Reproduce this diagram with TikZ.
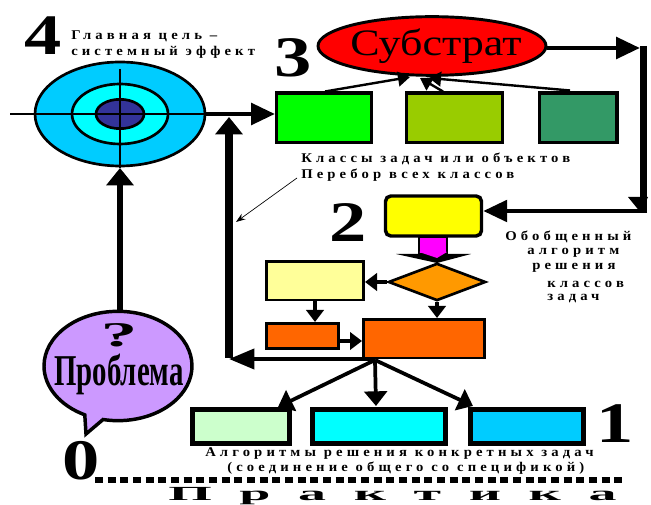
\documentclass[tikz,border=0pt]{standalone}
\usepackage{fontspec}
\setmainfont{Liberation Serif}
\newfontfamily\wide[LetterSpace=31,FakeStretch=1.1]{Liberation Serif}
\newfontfamily\numfont[FakeStretch=1.3]{Liberation Serif}
\usepackage{xcolor}
\usepackage{tikz}
\usetikzlibrary{shapes,shapes.geometric,shapes.callouts,arrows.meta,positioning,calc}
\definecolor{skyb}{HTML}{00CCFF}
\definecolor{aqua}{HTML}{00FFFF}
\definecolor{navyb}{HTML}{333399}
\definecolor{lime}{HTML}{00FF00}
\definecolor{oliveg}{HTML}{99CC00}
\definecolor{seag}{HTML}{339966}
\definecolor{puretop}{HTML}{FFFF00}
\definecolor{pink}{HTML}{FF00FF}
\definecolor{paley}{HTML}{FFFF99}
\definecolor{paleg}{HTML}{CCFFCC}
\definecolor{dkorange}{HTML}{FF6600}
\definecolor{ltorange}{HTML}{FF9900}
\definecolor{lilac}{HTML}{CC99FF}
\definecolor{purered}{HTML}{FF0000}
\tikzset{
  box/.style={draw,rectangle,line width=2.6pt,inner sep=0pt,anchor=north west},
  ring/.style={draw,ellipse,line width=2pt,inner sep=0pt},
  bignum/.style={inner sep=0pt,font=\numfont\bfseries\fontsize{43}{43}\selectfont},
  captext/.style={inner sep=0pt,anchor=west,font=\wide\bfseries\fontsize{10}{10}\selectfont},
  bigarrow/.style={line width=3.6pt,-{Triangle[length=18pt,width=16pt]}},
  midarrow/.style={line width=2.8pt,-{Triangle[length=11pt,width=17pt]}},
  smallarrow/.style={line width=2.4pt,-{Triangle[length=9pt,width=13pt]}},
  toparrow/.style={line width=1.8pt,-{Triangle[length=9pt,width=11pt]}},
}
\begin{document}
\begin{tikzpicture}[x=0.75pt,y=-0.75pt]
\useasboundingbox (0,0) rectangle (651,505);
% target
\node[ring,fill=skyb,minimum width=127.5pt,minimum height=78pt] (outer) at (120,114) {};
\node[ring,fill=aqua,minimum width=72pt,minimum height=45pt] (middle) at (120,114) {};
\node[ring,fill=navyb,minimum width=36pt,minimum height=22pt] (inner) at (120,114) {};
\coordinate (crossl) at (10,114);
\coordinate (crosst) at (120,69);
\coordinate (crossb) at (120,168);
\draw[line width=1.6pt] (crossl) -- (outer.east);
\draw[line width=1.6pt] (crosst) -- (crossb);
% top row
\node[box,fill=lime,minimum width=71pt,minimum height=37pt] (class1) at (275,91.5) {};
\node[box,fill=oliveg,minimum width=72pt,minimum height=37pt] (class2) at (405,91.5) {};
\node[box,fill=seag,minimum width=58pt,minimum height=37pt] (class3) at (538,91.5) {};
\node[draw,ellipse,fill=purered,line width=2.2pt,inner sep=0pt,minimum width=171pt,minimum height=44pt] (subst) at (432,46) {};
\node[inner sep=0pt,font=\fontsize{28}{28}\selectfont] (substtext) at (436,46) {\scalebox{1.18}[1]{Субстрат}};
\draw[toparrow] ($(class1.north west)+(50,0)$) -- (410,77);
\draw[toparrow] ($(class2.north west)+(38,0)$) -- (420,78);
\draw[toparrow] ($(class3.north west)+(32,-1)$) -- (429,78);
% right side
\coordinate (cornertop) at (640,48);
\coordinate (cornerbot) at (647,211);
\draw[bigarrow] (subst.east |- cornertop) -- (cornertop);
\draw[line width=5.4pt] (643.5,46) -- (643.5,212);
\fill (628,197) -- (648,197) -- (641,213) -- cycle;
% middle block
\node[draw,rectangle,rounded corners=4pt,fill=puretop,line width=2.6pt,inner sep=0pt,minimum width=72pt,minimum height=30pt] (general) at (433.5,216) {};
\draw[line width=3.4pt,-{Triangle[length=18pt,width=16pt]}] (cornerbot) -- (general.east |- cornerbot);
\draw[line width=2pt,fill=pink] (419,237) -- (447,237) -- (447,254) -- (419,254) -- cycle;
\fill (396,254) -- (471,254) -- (437,263) -- cycle;
\fill[pink] (419,252) -- (447,252) -- (437,258) -- cycle;
\node[draw,diamond,fill=ltorange,line width=2pt,inner sep=0pt,minimum width=73pt,minimum height=28pt] (choice) at (437,282) {};
\node[box,line width=2pt,fill=paley,minimum width=73pt,minimum height=29pt] (memo) at (265,260) {};
\node[box,line width=2pt,fill=dkorange,minimum width=54pt,minimum height=19pt] (smallor) at (265,322) {};
\node[box,line width=2pt,fill=dkorange,minimum width=91pt,minimum height=29pt] (bigor) at (362,318) {};
\draw[smallarrow] (choice.west) -- (memo.east |- choice.west);
\draw[smallarrow] ($(memo.south west)+(50,0)$) -- ($(smallor.north west)+(50,0)$);
\coordinate (joinor) at ($(smallor.south east)+(0,-9)$);
\draw[smallarrow] (joinor) -- (bigor.west |- joinor);
\draw[smallarrow] (choice.south) -- (choice.south |- bigor.north);
% feedback
\coordinate (split) at (375,360);
\coordinate (backend) at (229,359);
\draw[line width=3pt,-{Triangle[length=19pt,width=15pt]}] (split |- backend) -- (backend);
\coordinate (backtop) at (229,117);
\draw[line width=6pt,-{Triangle[length=13pt,width=20pt]}] (229,358) -- (backtop);
% main line
\draw[bigarrow] (outer.east) -- (class1.west |- outer.east);
% note arrow
\coordinate (notefrom) at (297,178);
\coordinate (noteto) at (236,222);
\draw[line width=0.5pt,-{Stealth[length=7pt,width=5pt]}] (notefrom) -- (noteto);
% bottom row
\node[box,line width=3.6pt,fill=paleg,minimum width=73pt,minimum height=25pt] (alg1) at (190,407.5) {};
\node[box,line width=3.6pt,fill=aqua,minimum width=100pt,minimum height=25pt] (alg2) at (310,407.5) {};
\node[box,line width=3.6pt,fill=skyb,minimum width=85pt,minimum height=25pt] (alg3) at (468,407.5) {};
\draw[midarrow] (split) -- (278,407);
\draw[midarrow] (split) -- (376,406);
\draw[midarrow] (split) -- (473,406);
% problem
\node[draw,ellipse callout,fill=lilac,line width=2.6pt,inner sep=0pt,minimum width=111pt,minimum height=82pt,callout absolute pointer={(86,434)}] (problem) at (118,366) {};
\coordinate (ptop) at (120,311);
\draw[line width=5pt,-{Triangle[length=13pt,width=20pt]}] (ptop) -- (crossb);
\node[inner sep=0pt,font=\bfseries\fontsize{26}{26}\selectfont] (qmark) at (119,335) {\scalebox{2.1}[1]{?}};
\node[inner sep=0pt,font=\bfseries\fontsize{33}{33}\selectfont] (ptext) at (119,374) {\scalebox{0.655}[1]{Проблема}};
% numbers
\node[bignum] (n4) at (43,36) {4};
\node[bignum] (n3) at (293,58) {3};
\node[bignum] (n2) at (348,223) {2};
\node[bignum] (n1) at (615,424) {1};
\node[bignum] (n0) at (81,461) {0};
% captions
\node[captext] (goal1) at (71,36) {Главная цель –};
\node[captext] (goal2) at (71,52) {системный эффект};
\node[captext] (cls1) at (301,159) {Классы задач или объектов};
\node[captext] (cls2) at (301,175) {Перебор всех классов};
\node[captext] (gen1) at (505,237) {Обобщенный};
\node[captext] (gen2) at (527,253) {алгоритм};
\node[captext] (gen3) at (532,268) {решения};
\node[captext] (gen4) at (547,284) {классов};
\node[captext] (gen5) at (547,299) {задач};
\node[captext] (spec1) at (205,454) {Алгоритмы решения конкретных задач};
\node[captext] (spec2) at (227,468) {(соединение общего со спецификой)};
% practice
\coordinate (dashl) at (95,480);
\coordinate (dashr) at (622,480);
\draw[line width=4pt,dash pattern=on 6pt off 3.5pt] (dashl) -- (dashr);
\node[inner sep=0pt,anchor=base west,font=\bfseries\fontsize{15}{15}\selectfont] (prac) at (168,501) {\scalebox{2.8}[1]{П\kern 7.4pt р\kern 7.4pt а\kern 7.4pt к\kern 7.4pt т\kern 7.4pt и\kern 7.4pt к\kern 7.4pt а}};
\end{tikzpicture}
\end{document}
